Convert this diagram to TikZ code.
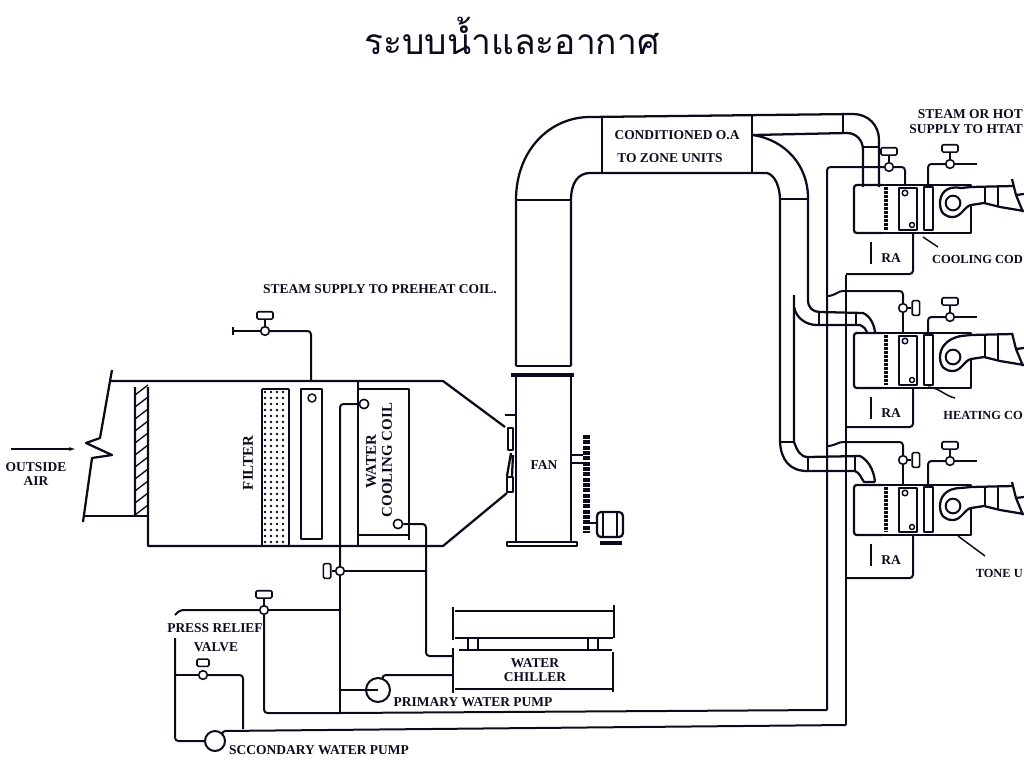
\documentclass[tikz,border=0pt]{standalone}
\usepackage{fontspec}
\setmainfont{Liberation Serif}
\newfontfamily\thaifont[Script=Thai]{Loma}
\usetikzlibrary{positioning,arrows.meta}
\definecolor{ink}{HTML}{0C0A1E}

\begin{document}
\begin{tikzpicture}[x=0.75pt, y=-0.75pt, line join=round, draw=ink, text=ink,
    duct/.style = {line width=1.7pt},
    pipe/.style = {line width=1.5pt, rounded corners=2.5pt},
    valve/.style = {draw, circle, line width=1.2pt, fill=white, inner sep=0pt, minimum size=6.5pt},
    handleh/.style = {draw, line width=1.2pt, rounded corners=1pt, inner sep=0pt, minimum width=12pt, minimum height=5.5pt},
    handlev/.style = {draw, line width=1.2pt, rounded corners=1pt, inner sep=0pt, minimum width=5.5pt, minimum height=11pt},
    pump/.style = {draw, circle, line width=1.5pt, inner sep=0pt},
    port/.style = {draw, circle, line width=1.2pt, fill=white, inner sep=0pt, minimum size=7pt},
    lbl/.style = {font=\fontsize{10.1}{11}\selectfont\bfseries, inner sep=0pt},
    lbls/.style = {font=\fontsize{9.3}{11}\selectfont\bfseries, inner sep=0pt, anchor=east},
    lblv/.style = {font=\fontsize{11.2}{12}\selectfont\bfseries, inner sep=0pt, rotate=90}]
    \useasboundingbox (0,0) rectangle (1024,768);
    \node[font=\fontsize{26.5}{30}\selectfont\thaifont, inner sep=0pt] (title) at (512,36) {ระบบน้ำและอากาศ};

    % air intake
    \coordinate (a1) at (11,449);
    \coordinate (a2) at (76,449);
    \draw[line width=1.2pt, -{Latex[length=5pt,width=3pt]}] (a1)--(a2);
    \node[lbl, align=center] (air) at (36,474) {OUTSIDE\\AIR};
    \draw[duct] (112,370)--(100,438)--(86,443)--(112,455)--(92,458)--(83,522);
    \draw[duct] (83,516)--(148,516);
    \draw[duct] (135,387)--(135,516) (148,387)--(148,546)--(443,546)--(507,493);
    \draw[duct] (111,381)--(443,381)--(505,427);
    \foreach \y in {395,407,...,515}
        \draw[line width=1pt] (135,\y)--(148,\y-10);

    % filter and coils
    \node[lblv] (filt) at (248,463) {FILTER};
    \foreach \y in {392,398,...,544}
        \foreach \x in {265,271,...,287}
            \fill[ink] (\x,\y) circle (1.3);
    \draw[duct] (262,389)--(262,546) (289,389)--(289,546) (262,389)--(289,389);
    \draw[duct] (301,389) rectangle (322,539);
    \draw[line width=1.1pt] (312,398) circle (4);
    \draw[duct] (358,381)--(358,546) (358,389)--(409,389)--(409,540) (358,535)--(409,535);
    \node[lblv] (wcc1) at (371,462) {WATER};
    \node[lblv] (wcc2) at (387,460) {COOLING COIL};
    \node[port] (i1) at (364,404) {};
    \node[port] (i2) at (398,524) {};

    % steam to preheat coil
    \node[lbl] (steam) at (380,289) {STEAM SUPPLY TO PREHEAT COIL.};
    \node[valve] (v1) at (265,331) {};
    \node[handleh, above=4.5pt of v1] (h1) {};
    \coordinate (s1) at (233,331);
    \coordinate (c1) at (311,381);
    \draw[pipe] (v1)--(h1);
    \draw[pipe] (s1)--(v1);
    \draw[pipe] (233,327)--(233,335);
    \draw[pipe] (v1)-|(c1);

    % main duct
    \node[lbl] (co1) at (677,135) {CONDITIONED O.A};
    \node[lbl] (co2) at (670,158) {TO ZONE UNITS};
    \draw[duct] (516,366)--(516,200) .. controls (516,150) and (550,117) .. (590,117)--(853,114)
        .. controls (868,114) and (879,125) .. (879,140)--(879,187);
    \draw[duct] (753,135)--(847,133) .. controls (856,133) and (863,140) .. (863,150)--(863,187);
    \draw[duct] (843,114)--(843,133) (863,147)--(879,147);
    \draw[duct] (602,117)--(602,172) (752,115)--(752,172);
    \draw[duct] (571,366)--(571,200) .. controls (571,183) and (578,173) .. (590,173)--(767,173)
        .. controls (775,175) and (780,187) .. (780,200)--(780,442) .. controls (781,460) and (790,471) .. (807,471)--(855,471)
        .. controls (860,473) and (861,478) .. (864,482)--(875,482);
    \draw[duct] (753,135) .. controls (785,140) and (808,165) .. (808,198)--(808,300)
        .. controls (808,308) and (813,312) .. (820,312)--(863,313) .. controls (870,316) and (874,324) .. (875,332);
    \draw[duct] (794,295)--(794,307) .. controls (796,318) and (806,325) .. (817,325)--(860,325) .. controls (864,327) and (866,329) .. (867,332);
    \draw[duct] (794,307)--(794,442) .. controls (797,450) and (800,457) .. (808,457)--(860,456)
        .. controls (868,460) and (874,470) .. (875,482);
    \draw[duct] (780,442)--(794,442);
    \draw[duct] (516,200)--(571,200) (780,199)--(808,199);
    \draw[duct] (819,312)--(819,325) (856,313)--(856,325) (808,457)--(808,471) (855,456)--(855,471);

    % fan and motor
    \draw[duct] (516,366)--(571,366);
    \draw[line width=2.6pt] (511,375)--(574,375);
    \draw[duct] (516,375)--(516,542) (571,375)--(571,542);
    \draw[line width=1.2pt] (507,542) rectangle (577,546);
    \draw[duct] (508,428) rectangle (513,450) (507,477) rectangle (513,492);
    \draw[duct] (511,453)--(507,476) (513,455)--(512,476);
    \draw[line width=1.1pt] (505,415)--(515,415);
    \node[lbl] (fan) at (544,465) {FAN};
    \draw[line width=1.1pt] (571,455)--(583,455) (571,463)--(583,463);
    \draw[line width=4.6pt, dash pattern=on 3pt off 1pt] (586.5,435)--(586.5,533);
    \draw[line width=1.1pt] (590,523)--(597,523);
    \draw[duct, rounded corners=3pt] (597,512) rectangle (623,537);
    \draw[line width=1.1pt] (603,512)--(603,537) (617,512)--(617,537);
    \draw[line width=2.6pt] (600,543)--(622,543);

    % chiller
    \node[lbl, align=center] (chill) at (535,670) {WATER\\CHILLER};
    \draw[duct] (455,611)--(613,611) (455,638)--(613,638) (459,650)--(612,650) (455,689)--(613,689);
    \draw[line width=2.2pt] (453,607)--(453,640) (614,605)--(614,638) (453,648)--(453,693) (613,652)--(613,692);
    \draw[line width=1.1pt] (468,639)--(468,650) (478,639)--(478,650) (588,639)--(588,650) (598,639)--(598,650);

    % water piping
    \node[valve] (v2) at (340,571) {};
    \node[handlev, left=2.5pt of v2] (h2) {};
    \node[valve] (v3) at (264,610) {};
    \node[handleh, above=4.5pt of v3] (h3) {};
    \node[valve] (v5) at (203,675) {};
    \node[handleh, minimum width=9pt, above=2pt of v5] (h5) {};
    \node[pump, minimum size=18pt] (p1) at (378,690) {};
    \node[pump, minimum size=15pt] (p2) at (215,741) {};
    \node[lbl] (ppump) at (473,702) {PRIMARY WATER PUMP};
    \node[lbl] (spump) at (319,750) {SCCONDARY WATER PUMP};
    \node[lbl] (relief) at (215,628) {PRESS RELIEF};
    \node[lbl] (rvalve) at (216,647) {VALVE};
    \coordinate (f1) at (452,656);
    \coordinate (f2) at (452,675);
    \coordinate (j2) at (340,713);
    \coordinate (j3) at (426,571);
    \coordinate (j4) at (340,610);
    \coordinate (j5) at (827,710);
    \coordinate (j6) at (846,725);
    \coordinate (j7) at (243,729);
    \coordinate (j8) at (340,690);
    \coordinate (j9) at (846,275);
    \coordinate (s3) at (175,615);
    \coordinate (s4) at (175,638);
    \draw[pipe] (i1)-|(v2);
    \draw[pipe] (i2)-|(j3);
    \draw[pipe] (v2)--(h2);
    \draw[pipe] (v2)--(j3);
    \draw[pipe] (j3)|-(f1);
    \draw[pipe] (v2)--(j2);
    \draw[pipe] (v3)--(h3);
    \draw[pipe] (v3)--(j4);
    \draw[pipe] (v3)--(180,610)--(s3);
    \draw[pipe] (v3)|-(j2);
    \draw[pipe] (j2)--(j5);
    \draw[pipe] (j8)--(p1.center);
    \draw[pipe] (p1.70)|-(f2);
    \draw[pipe] (s4)|-(p2);
    \draw[pipe] (v5)--(175,675);
    \draw[pipe] (v5)-|(j7);
    \draw[pipe] (p2.50)--(222,731)--(j6);
    \draw[pipe] (j6)--(j9);

    % zone units
    \node[valve] (v4) at (889,167) {};
    \node[handleh, above=4.5pt of v4] (h4) {};
    \node[valve] (v6) at (903,308) {};
    \node[handlev, right=2.5pt of v6] (h6) {};
    \node[valve] (v7) at (903,460) {};
    \node[handlev, right=2.5pt of v7] (h7) {};
    \coordinate (j10) at (827,296);
    \coordinate (j11) at (827,446);
    \coordinate (u1) at (905,185);
    \coordinate (u2) at (903,333);
    \coordinate (u3) at (903,485);
    \draw[pipe] (j5)|-(v4);
    \draw[pipe] (v4)-|(u1);
    \draw[pipe] (v4)--(h4);
    \draw[pipe] (v6)--(h6);
    \draw[pipe] (v7)--(h7);
    \draw[pipe] (j10) .. controls (835,296) and (838,291) .. (846,291)-|(v6);
    \draw[pipe] (v6)--(u2);
    \draw[pipe] (j11) .. controls (835,446) and (838,442) .. (846,442)-|(v7);
    \draw[pipe] (v7)--(u3);

    \foreach \yt/\yb/\yf/\yr/\ys in {185/233/203/274/164, 333/388/357/427/317, 485/535/506/578/461} {
        \draw[duct, rounded corners=2pt] (882,\yb)--(854,\yb)--(854,\yt)--(882,\yt);
        \draw[duct] (882,\yt)--(971,\yt)--(971,\yt+2) (882,\yb)--(971,\yb)--(971,\yf+2);
        \draw[line width=3pt, dash pattern=on 2.2pt off 0.8pt] (886,\yt+2)--(886,\yb-3);
        \draw[line width=1.2pt] (899,\yt+3) rectangle (917,\yb-3);
        \draw[line width=1.2pt] (924,\yt+2) rectangle (933,\yb-3);
        \draw[line width=1.1pt] (905,\yt+8) circle (2.8);
        \draw[line width=1.1pt] (912,\yb-8) circle (2.5);
        \node[pump, minimum size=11pt] (fan\yt) at (953,\yf) {};
        \draw[duct] (971,\yt+2)--(961,\yt+3) .. controls (945,\yf-18) and (940,\yf-8) .. (940,\yf)
            .. controls (940,\yf+10) and (945,\yf+14) .. (953,\yf+14) .. controls (961,\yf+14) and (965,\yf+3) .. (971,\yf+2);
        \draw[duct] (971,\yt+2)--(1013,\yt+1);
        \draw[duct] (971,\yf+2)--(984,\yf)--(1000,\yf+4)--(1024,\yf+8);
        \draw[line width=1.2pt] (985,\yt+2)--(985,\yf) (998,\yt+2)--(998,\yf+4);
        \draw[duct] (1012,\yf-24)--(1016,\yf-8)--(1024,\yf-9) (1016,\yf-8)--(1023,\yf+9);
        \draw[line width=2.2pt] (871,\yb+9)--(871,\yb+31);
        \node[lbl] (ra\yt) at (891,\yb+25) {RA};
        \draw[pipe] (846,\yr)-|(913,\yb);
        \node[valve] (sv\yt) at (950,\ys) {};
        \node[handleh, above=4.5pt of sv\yt] (sh\yt) {};
        \draw[pipe] (sv\yt)--(sh\yt);
        \draw[pipe] (sv\yt)--(977,\ys);
        \draw[pipe] (sv\yt)-|(928,\yt);
    }

    % labels at the edge
    \node[lbl, anchor=east] (st1) at (1023,114) {STEAM OR HOT};
    \node[lbl, anchor=east] (st2) at (1023,129) {SUPPLY TO HTAT};
    \node[lbls] (cc) at (1023,259) {COOLING COD};
    \node[lbls] (hc) at (1023,415) {HEATING CO};
    \node[lbls] (tu) at (1023,573) {TONE U};
    \draw[line width=1.1pt] (923,237)--(938,247);
    \draw[line width=1.1pt] (928,387) .. controls (940,388) and (945,396) .. (955,398);
    \draw[line width=1.1pt] (958,536)--(985,556);
\end{tikzpicture}
\end{document}
